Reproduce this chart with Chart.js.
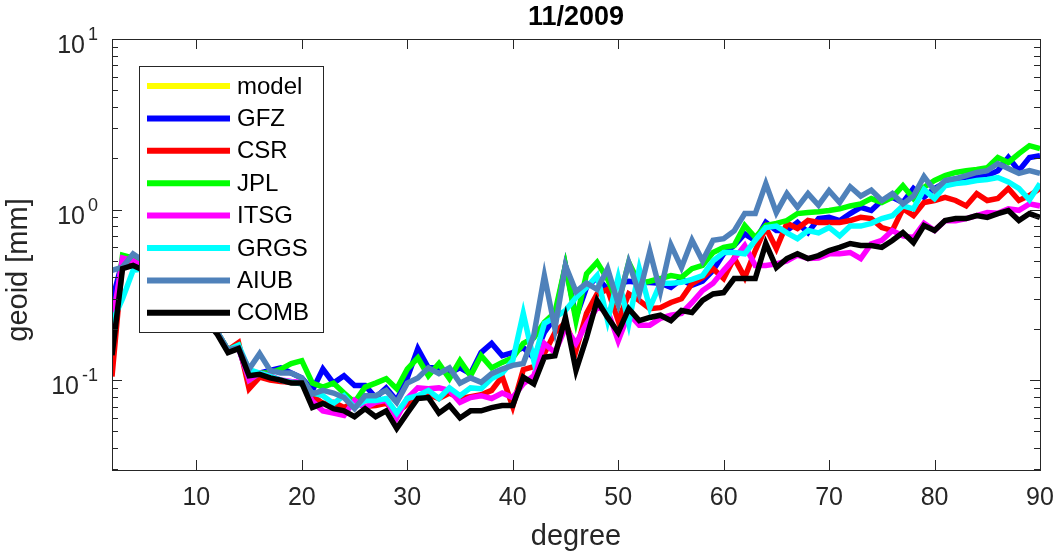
<!DOCTYPE html>
<html>
<head>
<meta charset="utf-8">
<title>11/2009</title>
<script src="https://cdn.jsdelivr.net/npm/chart.js@4.4.1/dist/chart.umd.min.js"></script>
<style>
  html, body { margin: 0; padding: 0; background: #fff; }
  #wrap { width: 1056px; height: 556px; }
</style>
</head>
<body>
<div id="wrap"><canvas id="geoidChart" width="1056" height="556"></canvas></div>
<script>
// spherical harmonic degree (x)
const degrees = [2, 3, 4, 5, 6, 7, 8, 9, 10, 11,
  12, 13, 14, 15, 16, 17, 18, 19, 20, 21,
  22, 23, 24, 25, 26, 27, 28, 29, 30, 31,
  32, 33, 34, 35, 36, 37, 38, 39, 40, 41,
  42, 43, 44, 45, 46, 47, 48, 49, 50, 51,
  52, 53, 54, 55, 56, 57, 58, 59, 60, 61,
  62, 63, 64, 65, 66, 67, 68, 69, 70, 71,
  72, 73, 74, 75, 76, 77, 78, 79, 80, 81,
  82, 83, 84, 85, 86, 87, 88, 89, 90];

// geoid degree amplitudes [mm]
const model = []; // no visible curve in the figure

const gfz = [0.29, 0.5, 0.5, 0.46, 0.42, 0.38, 0.34, 0.3, 0.26, 0.22,
  0.19, 0.15, 0.155, 0.1, 0.11, 0.114, 0.118, 0.11, 0.103, 0.087,
  0.116, 0.096, 0.106, 0.093, 0.093, 0.079, 0.09, 0.076, 0.103, 0.153,
  0.118, 0.118, 0.11, 0.118, 0.109, 0.145, 0.164, 0.139, 0.145, 0.155,
  0.135, 0.19, 0.233, 0.47, 0.233, 0.35, 0.4, 0.34, 0.37, 0.38,
  0.374, 0.374, 0.37, 0.35, 0.39, 0.36, 0.38, 0.44, 0.55, 0.615,
  0.72, 0.658, 0.84, 0.753, 0.753, 0.84, 0.733, 0.885, 0.9, 0.86,
  0.947, 1.03, 0.987, 1.13, 1.18, 1.1, 1.33, 1.18, 1.33, 1.44,
  1.48, 1.52, 1.54, 1.58, 1.69, 2.02, 1.69, 2.02, 2.07];

const csr = [0.105, 0.5, 0.5, 0.46, 0.42, 0.38, 0.34, 0.3, 0.26, 0.22,
  0.19, 0.15, 0.166, 0.089, 0.104, 0.1, 0.098, 0.097, 0.095, 0.081,
  0.073, 0.074, 0.069, 0.074, 0.07, 0.071, 0.073, 0.065, 0.072, 0.08,
  0.082, 0.078, 0.084, 0.078, 0.08, 0.082, 0.087, 0.105, 0.07, 0.115,
  0.12, 0.143, 0.19, 0.218, 0.149, 0.246, 0.32, 0.34, 0.223, 0.32,
  0.293, 0.262, 0.266, 0.285, 0.3, 0.368, 0.4, 0.45, 0.394, 0.52,
  0.4, 0.575, 0.784, 0.59, 0.83, 0.774, 0.862, 0.84, 0.84, 0.84,
  0.862, 0.9, 0.885, 0.784, 0.753, 1.01, 0.922, 1.1, 1.13, 1.18,
  1.13, 1.05, 1.24, 1.13, 1.16, 1.33, 1.13, 1.21, 1.33];

const jpl = [0.18, 0.54, 0.52, 0.47, 0.43, 0.39, 0.35, 0.31, 0.27, 0.23,
  0.19, 0.15, 0.16, 0.1, 0.11, 0.11, 0.116, 0.125, 0.13, 0.096,
  0.091, 0.096, 0.084, 0.074, 0.091, 0.096, 0.102, 0.089, 0.116, 0.135,
  0.106, 0.125, 0.102, 0.13, 0.106, 0.139, 0.118, 0.127, 0.135, 0.164,
  0.177, 0.218, 0.249, 0.47, 0.223, 0.42, 0.49, 0.39, 0.28, 0.49,
  0.368, 0.38, 0.394, 0.41, 0.4, 0.45, 0.47, 0.56, 0.6, 0.615,
  0.806, 0.685, 0.806, 0.83, 0.862, 0.947, 0.96, 0.97, 0.987, 1.01,
  1.05, 1.08, 1.16, 1.1, 1.18, 1.38, 1.16, 1.35, 1.48, 1.58,
  1.65, 1.69, 1.72, 1.76, 2.02, 1.89, 2.13, 2.37, 2.28];

const itsg = [0.21, 0.52, 0.5, 0.46, 0.42, 0.38, 0.34, 0.3, 0.26, 0.22,
  0.19, 0.148, 0.155, 0.1, 0.11, 0.106, 0.1, 0.098, 0.097, 0.075,
  0.066, 0.064, 0.062, 0.076, 0.069, 0.074, 0.076, 0.06, 0.078, 0.09,
  0.089, 0.09, 0.087, 0.074, 0.079, 0.081, 0.078, 0.084, 0.079, 0.095,
  0.106, 0.164, 0.145, 0.203, 0.164, 0.214, 0.266, 0.256, 0.17, 0.246,
  0.21, 0.21, 0.23, 0.24, 0.246, 0.285, 0.335, 0.37, 0.44, 0.515,
  0.615, 0.47, 0.47, 0.48, 0.5, 0.54, 0.516, 0.52, 0.55, 0.55,
  0.56, 0.516, 0.63, 0.66, 0.753, 0.7, 0.685, 0.83, 0.753, 0.86,
  0.86, 0.885, 0.92, 0.96, 0.95, 1.01, 0.99, 1.08, 1.05];

const grgs = [0.218, 0.3, 0.44, 0.45, 0.42, 0.38, 0.34, 0.3, 0.26, 0.22,
  0.19, 0.15, 0.16, 0.115, 0.11, 0.105, 0.1, 0.097, 0.095, 0.084,
  0.081, 0.073, 0.081, 0.069, 0.076, 0.076, 0.078, 0.064, 0.078, 0.081,
  0.087, 0.078, 0.09, 0.081, 0.09, 0.089, 0.102, 0.11, 0.13, 0.246,
  0.13, 0.215, 0.233, 0.256, 0.305, 0.35, 0.41, 0.223, 0.4, 0.215,
  0.45, 0.266, 0.37, 0.37, 0.374, 0.39, 0.41, 0.5, 0.56, 0.56,
  0.55, 0.66, 0.785, 0.8, 0.73, 0.675, 0.753, 0.73, 0.785, 0.7,
  0.8, 0.8, 0.83, 0.885, 0.92, 1.05, 1.01, 1.31, 1.16, 1.38,
  1.42, 1.44, 1.48, 1.5, 1.54, 1.45, 1.33, 1.14, 1.42];

const aiub = [0.44, 0.46, 0.55, 0.5, 0.45, 0.4, 0.35, 0.31, 0.27, 0.23,
  0.19, 0.15, 0.155, 0.116, 0.143, 0.114, 0.11, 0.11, 0.103, 0.083,
  0.087, 0.084, 0.079, 0.068, 0.081, 0.081, 0.087, 0.074, 0.096, 0.103,
  0.118, 0.109, 0.118, 0.096, 0.103, 0.097, 0.109, 0.116, 0.122, 0.125,
  0.183, 0.41, 0.2, 0.47, 0.33, 0.37, 0.34, 0.45, 0.28, 0.49,
  0.32, 0.57, 0.33, 0.62, 0.457, 0.66, 0.5, 0.66, 0.675, 0.75,
  0.947, 0.947, 1.42, 0.96, 1.24, 1.03, 1.24, 1.06, 1.29, 1.1,
  1.36, 1.2, 1.3, 1.13, 1.24, 1.08, 1.2, 1.56, 1.29, 1.48,
  1.52, 1.58, 1.65, 1.69, 1.86, 1.74, 1.63, 1.69, 1.63];

const comb = [0.14, 0.45, 0.47, 0.44, 0.41, 0.37, 0.33, 0.29, 0.25, 0.22,
  0.185, 0.145, 0.153, 0.106, 0.108, 0.103, 0.1, 0.096, 0.096, 0.069,
  0.073, 0.068, 0.066, 0.061, 0.068, 0.061, 0.066, 0.052, 0.064, 0.078,
  0.079, 0.064, 0.071, 0.06, 0.066, 0.066, 0.069, 0.071, 0.071, 0.104,
  0.095, 0.136, 0.139, 0.233, 0.114, 0.177, 0.293, 0.233, 0.19, 0.262,
  0.223, 0.233, 0.24, 0.223, 0.256, 0.249, 0.293, 0.32, 0.326, 0.394,
  0.394, 0.394, 0.632, 0.457, 0.516, 0.55, 0.516, 0.537, 0.575, 0.6,
  0.632, 0.615, 0.615, 0.6, 0.658, 0.733, 0.64, 0.806, 0.753, 0.862,
  0.885, 0.885, 0.922, 0.9, 0.947, 0.987, 0.862, 0.947, 0.9];

const seriesNames = ['model', 'GFZ', 'CSR', 'JPL', 'ITSG', 'GRGS', 'AIUB', 'COMB'];
const seriesValues = [model, gfz, csr, jpl, itsg, grgs, aiub, comb];
const seriesColors = ['#FFFF00', '#0000FF', '#FF0000', '#00FF00', '#FF00FF', '#00FFFF', '#4F81BA', '#000000'];

// tick labels
const xTicks = [10, 20, 30, 40, 50, 60, 70, 80, 90];
const yTickExponents = [-1, 0, 1];
const yMinorTicks = [0.03, 0.04, 0.05, 0.06, 0.07, 0.08, 0.09,
  0.2, 0.3, 0.4, 0.5, 0.6, 0.7, 0.8, 0.9,
  2, 3, 4, 5, 6, 7, 8, 9];

const titleText = '11/2009';
const xLabel = 'degree';
const yLabel = 'geoid [mm]';

const axisColor = '#262626';
const fontFamily = '"Liberation Sans", Arial, Helvetica, sans-serif';

// MATLAB-style box, inward ticks, labels and legend
const matlabAxes = {
    id: 'matlabAxes',
    afterDatasetsDraw(chart) {
        const { ctx, chartArea: a, scales: { x, y } } = chart;
        ctx.save();
        ctx.strokeStyle = axisColor;
        ctx.lineWidth = 1;
        ctx.beginPath();
        xTicks.forEach(v => {
            const px = Math.round(x.getPixelForValue(v)) + 0.5;
            ctx.moveTo(px, a.bottom); ctx.lineTo(px, a.bottom - 10);
            ctx.moveTo(px, a.top); ctx.lineTo(px, a.top + 10);
        });
        yTickExponents.forEach(e => {
            const py = Math.round(y.getPixelForValue(Math.pow(10, e))) + 0.5;
            ctx.moveTo(a.left, py); ctx.lineTo(a.left + 10, py);
            ctx.moveTo(a.right, py); ctx.lineTo(a.right - 10, py);
        });
        yMinorTicks.forEach(v => {
            const py = Math.round(y.getPixelForValue(v)) + 0.5;
            ctx.moveTo(a.left, py); ctx.lineTo(a.left + 6, py);
            ctx.moveTo(a.right, py); ctx.lineTo(a.right - 6, py);
        });
        ctx.stroke();
        ctx.strokeRect(Math.round(a.left) + 0.5, Math.round(a.top) + 0.5,
            Math.round(a.right - a.left), Math.round(a.bottom - a.top));

        // x tick labels
        ctx.fillStyle = axisColor;
        ctx.font = '25px ' + fontFamily;
        ctx.textAlign = 'center';
        ctx.textBaseline = 'alphabetic';
        xTicks.forEach(v => {
            ctx.fillText(String(v), x.getPixelForValue(v), a.bottom + 35);
        });

        // y tick labels 10^n
        yTickExponents.forEach(e => {
            const py = y.getPixelForValue(Math.pow(10, e));
            const expText = String(e);
            ctx.font = '18px ' + fontFamily;
            const we = ctx.measureText(expText).width;
            ctx.font = '25px ' + fontFamily;
            const wb = ctx.measureText('10').width;
            const right = a.left - 14;
            ctx.textAlign = 'left';
            ctx.fillText('10', right - we - wb - 3, py + 14);
            ctx.font = '18px ' + fontFamily;
            ctx.fillText(expText, right - we, py + 1);
        });

        // axis labels and title
        ctx.textAlign = 'center';
        ctx.font = '29px ' + fontFamily;
        ctx.fillText(xLabel, (a.left + a.right) / 2, a.bottom + 75);
        ctx.save();
        ctx.translate(27, 270);
        ctx.rotate(-Math.PI / 2);
        ctx.fillText(yLabel, 0, 0);
        ctx.restore();
        ctx.fillStyle = '#000';
        ctx.font = 'bold 27px ' + fontFamily;
        ctx.fillText(titleText, (a.left + a.right) / 2, 25);

        // legend box
        const lx = 139, ly = 66, lw = 184, lh = 266;
        ctx.fillStyle = '#fff';
        ctx.fillRect(lx, ly, lw, lh);
        ctx.strokeStyle = axisColor;
        ctx.strokeRect(lx + 0.5, ly + 0.5, lw, lh);
        ctx.font = '24px ' + fontFamily;
        ctx.textAlign = 'left';
        ctx.textBaseline = 'middle';
        seriesNames.forEach((name, i) => {
            const rowY = 86 + i * 32.4;
            ctx.strokeStyle = seriesColors[i];
            ctx.lineWidth = 6;
            ctx.beginPath();
            ctx.moveTo(147, rowY);
            ctx.lineTo(230, rowY);
            ctx.stroke();
            ctx.fillStyle = '#000';
            ctx.fillText(name, 237, rowY + 1);
        });
        ctx.restore();
    }
};

const datasets = seriesNames.map((name, i) => ({
    label: name,
    data: seriesValues[i].map((v, j) => ({ x: degrees[j], y: v })),
    borderColor: seriesColors[i],
    backgroundColor: seriesColors[i],
    borderWidth: 5.5,
    pointRadius: 0,
    fill: false,
    tension: 0,
    clip: 0,
    // later series are drawn on top, as in the original plot
    order: seriesNames.length - i
}));

const ctx = document.getElementById('geoidChart').getContext('2d');
new Chart(ctx, {
    type: 'line',
    data: { datasets: datasets },
    options: {
        responsive: false,
        animation: false,
        devicePixelRatio: 1,
        layout: { padding: { left: 112, top: 39, right: 16, bottom: 86 } },
        plugins: {
            legend: { display: false },
            tooltip: { enabled: false },
            title: { display: false }
        },
        scales: {
            x: { type: 'linear', min: 2, max: 90, display: false },
            y: { type: 'logarithmic', min: 0.0297, max: 10, display: false }
        }
    },
    plugins: [matlabAxes]
});
</script>
</body>
</html>
